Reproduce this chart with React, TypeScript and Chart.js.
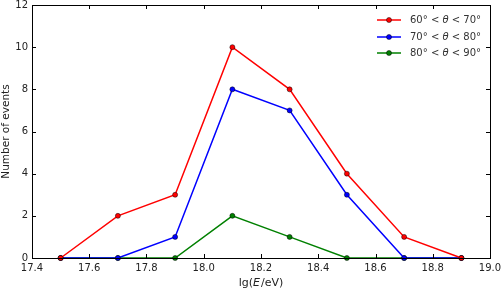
import React, { useEffect, useRef } from "react";
import { Chart, registerables } from "chart.js";

Chart.register(...registerables);

const energies = [17.5, 17.7, 17.9, 18.1, 18.3, 18.5, 18.7, 18.9];
const series60to70 = [0, 2, 3, 10, 8, 4, 1, 0];
const series70to80 = [0, 0, 1, 8, 7, 3, 0, 0];
const series80to90 = [0, 0, 0, 2, 1, 0, 0, 0];
const seriesLabels = [
  ["60° < ", "θ", " < 70°"],
  ["70° < ", "θ", " < 80°"],
  ["80° < ", "θ", " < 90°"],
];
const seriesColors = ["#ff0000", "#0000ff", "#008000"];
const xTickMin = 17.4;
const xTickMax = 19.0;
const yTickMin = 0;
const yTickMax = 12;

const FONT = "'DejaVu Sans', sans-serif";

const framePlugin = {
  id: "frameTicks",
  afterDraw(chart: any) {
    const { ctx, chartArea, scales } = chart;
    const { left, right, top, bottom } = chartArea;
    ctx.save();
    ctx.strokeStyle = "#000";
    ctx.lineWidth = 1;
    ctx.strokeRect(Math.round(left) + 0.5, Math.round(top) + 0.5, Math.round(right - left), Math.round(bottom - top));
    const tl = 4;
    ctx.beginPath();
    scales.x.ticks.forEach((t: any) => {
      const px = Math.round(scales.x.getPixelForValue(t.value)) + 0.5;
      ctx.moveTo(px, bottom);
      ctx.lineTo(px, bottom - tl);
      ctx.moveTo(px, top);
      ctx.lineTo(px, top + tl);
    });
    scales.y.ticks.forEach((t: any) => {
      const py = Math.round(scales.y.getPixelForValue(t.value)) + 0.5;
      ctx.moveTo(left, py);
      ctx.lineTo(left + tl, py);
      ctx.moveTo(right, py);
      ctx.lineTo(right - tl, py);
    });
    ctx.stroke();

    // x-axis title with italic E
    ctx.fillStyle = "#222";
    ctx.textBaseline = "middle";
    const parts: [string, boolean][] = [["lg(", false], ["E", true], ["/eV)", false]];
    const fontFor = (it: boolean) => `${it ? "italic " : ""}11px ${FONT}`;
    let total = 0;
    parts.forEach(([s, it]) => {
      ctx.font = fontFor(it);
      total += ctx.measureText(s).width + (it ? 1 : 0);
    });
    let x = (left + right) / 2 - total / 2;
    const ty = 283;
    parts.forEach(([s, it]) => {
      ctx.font = fontFor(it);
      ctx.textAlign = "left";
      ctx.fillText(s, x, ty);
      x += ctx.measureText(s).width + (it ? 1 : 0);
    });

    // legend
    const lx0 = 377;
    const lx1 = 401;
    const tx = 410;
    const rows = [20, 37, 53];
    seriesLabels.forEach((lab, i) => {
      const y = rows[i];
      ctx.strokeStyle = seriesColors[i];
      ctx.lineWidth = 1.5;
      ctx.beginPath();
      ctx.moveTo(lx0, y);
      ctx.lineTo(lx1, y);
      ctx.stroke();
      ctx.fillStyle = seriesColors[i];
      ctx.beginPath();
      ctx.arc((lx0 + lx1) / 2, y, 2.5, 0, Math.PI * 2);
      ctx.fill();
      ctx.strokeStyle = "#000";
      ctx.lineWidth = 0.5;
      ctx.stroke();
      ctx.fillStyle = "#333";
      let cx = tx;
      lab.forEach((s, j) => {
        ctx.font = `${j === 1 ? "italic " : ""}10px ${FONT}`;
        ctx.textAlign = "left";
        ctx.fillText(s, cx, y);
        cx += ctx.measureText(s).width;
      });
    });
    ctx.restore();
  },
};

export default function App() {
  const ref = useRef<HTMLCanvasElement | null>(null);
  useEffect(() => {
    document.body.style.margin = "0";
    if (!ref.current) return;
    const all = [series60to70, series70to80, series80to90];
    const chart = new Chart(ref.current, {
      type: "line",
      data: {
        datasets: all.map((vals, i) => ({
          label: seriesLabels[i].join(""),
          data: energies.map((x, k) => ({ x, y: vals[k] })),
          borderColor: seriesColors[i],
          backgroundColor: seriesColors[i],
          pointBackgroundColor: seriesColors[i],
          pointBorderColor: "#000",
          pointBorderWidth: 0.5,
          pointRadius: 2.5,
          borderWidth: 1.5,
          tension: 0,
          clip: false as any,
        })),
      },
      options: {
        animation: false,
        responsive: false,
        layout: { padding: { top: 5, right: 12, left: 0, bottom: 0 } },
        plugins: { legend: { display: false }, tooltip: { enabled: false } },
        scales: {
          x: {
            type: "linear",
            min: xTickMin,
            max: xTickMax,
            grid: { display: false, drawTicks: false },
            border: { display: false },
            ticks: {
              stepSize: 0.2,
              padding: 4,
              color: "#222",
              font: { family: FONT, size: 10 },
              maxRotation: 0,
              callback: (v: any) => Number(v).toFixed(1),
            },
            afterFit: (s: any) => {
              s.height = 33;
              s.paddingLeft = 0;
              s.paddingRight = 0;
            },
          },
          y: {
            min: yTickMin,
            max: yTickMax,
            grid: { display: false, drawTicks: false },
            border: { display: false },
            ticks: {
              stepSize: 2,
              padding: 4,
              color: "#222",
              font: { family: FONT, size: 10 },
            },
            title: {
              display: true,
              text: "Number of events",
              color: "#222",
              font: { family: FONT, size: 10.5 },
              padding: { top: 0, bottom: 0 },
            },
            afterFit: (s: any) => {
              s.width = 32;
              s.paddingTop = 0;
              s.paddingBottom = 0;
            },
          },
        },
      },
      plugins: [framePlugin],
    });
    return () => chart.destroy();
  }, []);
  return <canvas ref={ref} width={502} height={291} style={{ display: "block" }} />;
}
